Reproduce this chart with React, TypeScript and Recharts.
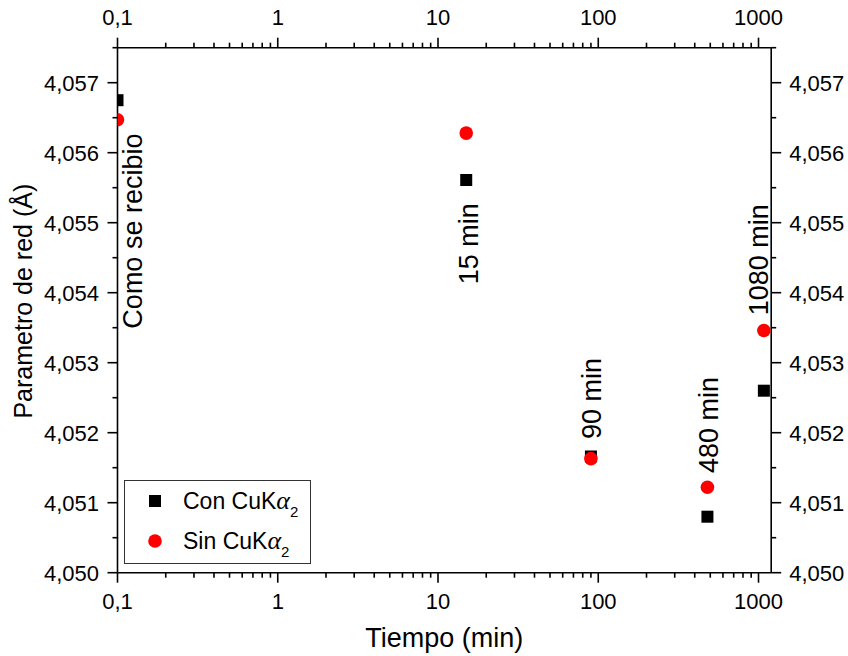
import React from 'react';
import { ScatterChart, Scatter, XAxis, YAxis, Legend } from 'recharts';

const FONT = '"Liberation Sans", Arial, Helvetica, sans-serif';

// ---- data ----
const tiempos = [0.1, 15, 90, 480, 1080];
const conCuKa2 = [4.05675, 4.05561, 4.05166, 4.0508, 4.0526];
const sinCuKa2 = [4.05647, 4.05628, 4.05163, 4.05122, 4.05346];
const seriesNames = ['Con CuKα2', 'Sin CuKα2'];

const annotationTexts = ['Como se recibio', '15 min', '90 min', '480 min', '1080 min'];
const annotationX = [0.1232, 15.5, 90, 484, 995];
const annotationY = [4.05488, 4.0547, 4.05249, 4.05211, 4.05447];

const xMajorTicks = [0.1, 1, 10, 100, 1000];
const xTickLabels = ['0,1', '1', '10', '100', '1000'];
const xMinorTicks = [
  0.2, 0.3, 0.4, 0.5, 0.6, 0.7, 0.8, 0.9,
  2, 3, 4, 5, 6, 7, 8, 9,
  20, 30, 40, 50, 60, 70, 80, 90,
  200, 300, 400, 500, 600, 700, 800, 900,
];
const yMajorTicks = [4.05, 4.051, 4.052, 4.053, 4.054, 4.055, 4.056, 4.057];
const yTickLabels = ['4,050', '4,051', '4,052', '4,053', '4,054', '4,055', '4,056', '4,057'];
const yMinorTicks = [4.0505, 4.0515, 4.0525, 4.0535, 4.0545, 4.0555, 4.0565, 4.0575];

const xDomain = [0.1, 1200];
const yDomain = [4.05, 4.0575];

// ---- tables built from the arrays ----
const conData = tiempos.map((t, i) => ({ x: t, y: conCuKa2[i] }));
const sinData = tiempos.map((t, i) => ({ x: t, y: sinCuKa2[i] }));
const annData = annotationTexts.map((s, i) => ({ x: annotationX[i], y: annotationY[i], text: s }));
const xAllTicks = [...xMajorTicks, ...xMinorTicks].sort((a, b) => a - b);
const yAllTicks = [...yMajorTicks, ...yMinorTicks].sort((a, b) => a - b);

const findIdx = (arr: number[], v: number) => arr.findIndex((m) => Math.abs(m - v) < 1e-7 * Math.abs(m));

const STROKE = 1.6;

const makeXTick = (side: 'top' | 'bottom') => (props: any) => {
  const { x, y, payload } = props;
  const idx = findIdx(xMajorTicks, payload.value);
  const major = idx >= 0;
  const len = major ? 10 : 5;
  const s = side === 'bottom' ? 1 : -1;
  return (
    <g>
      <line x1={x} x2={x} y1={y} y2={y + s * len} stroke="#000" strokeWidth={STROKE} />
      {major && (
        <text
          x={x}
          y={side === 'bottom' ? y + 36 : y - 23}
          textAnchor="middle"
          fontSize={22}
          fontFamily={FONT}
          fill="#000"
        >
          {xTickLabels[idx]}
        </text>
      )}
    </g>
  );
};

const makeYTick = (side: 'left' | 'right') => (props: any) => {
  const { x, y, payload } = props;
  const idx = findIdx(yMajorTicks, payload.value);
  const major = idx >= 0;
  const len = major ? 10 : 5;
  const s = side === 'right' ? 1 : -1;
  return (
    <g>
      <line x1={x} x2={x + s * len} y1={y} y2={y} stroke="#000" strokeWidth={STROKE} />
      {major && (
        <text
          x={side === 'right' ? x + 18 : x - 18.5}
          y={y}
          dy="0.36em"
          textAnchor={side === 'right' ? 'start' : 'end'}
          fontSize={22}
          fontFamily={FONT}
          fill="#000"
        >
          {yTickLabels[idx]}
        </text>
      )}
    </g>
  );
};

const XTitle = (props: any) => {
  const vb = props.viewBox || {};
  return (
    <text
      x={vb.x + vb.width / 2}
      y={vb.y + 74.6}
      textAnchor="middle"
      fontSize={27}
      fontFamily={FONT}
      fill="#000"
    >
      Tiempo (min)
    </text>
  );
};

const YTitle = (props: any) => {
  const vb = props.viewBox || {};
  const cx = vb.x + 23;
  const cy = vb.y + vb.height / 2 - 9;
  return (
    <text
      transform={`translate(${cx},${cy}) rotate(-90)`}
      x={0}
      y={0}
      dy="0.36em"
      textAnchor="middle"
      fontSize={25}
      fontFamily={FONT}
      fill="#000"
    >
      Parametro de red (Å)
    </text>
  );
};

const SquareShape = (props: any) => {
  const { cx, cy } = props;
  return <rect x={cx - 6} y={cy - 6} width={12} height={12} fill="#000" />;
};
const CircleShape = (props: any) => {
  const { cx, cy } = props;
  return <circle cx={cx} cy={cy} r={6.8} fill="#ff0000" />;
};
const AnnotationShape = (props: any) => {
  const { cx, cy, payload } = props;
  return (
    <text
      transform={`translate(${cx},${cy}) rotate(-90)`}
      x={0}
      y={0}
      dy="0.36em"
      textAnchor="middle"
      fontSize={27}
      fontFamily={FONT}
      fill="#000"
    >
      {payload?.text}
    </text>
  );
};

const LegendContent = (props: any) => {
  const items = (props.payload || []).filter((p: any) => p.type !== 'none');
  return (
    <svg width={187} height={85} style={{ display: 'block' }}>
      <rect x={0.5} y={0.5} width={186} height={83} fill="#fff" stroke="#333" strokeWidth={1} />
      {items.map((p: any, i: number) => {
        const cy = 21 + i * 40;
        const name: string = p.value || '';
        const aIdx = name.indexOf('α');
        const base = aIdx >= 0 ? name.slice(0, aIdx) : name;
        const sub = aIdx >= 0 ? name.slice(aIdx + 1) : '';
        return (
          <g key={i}>
            {p.type === 'square' ? (
              <rect x={31 - 6} y={cy - 6} width={12} height={12} fill={p.color} />
            ) : (
              <circle cx={31} cy={cy} r={6.8} fill={p.color} />
            )}
            <text x={59} y={cy + 7.5} fontSize={23} fontFamily={FONT} fill="#000">
              {base}
              {aIdx >= 0 && (
                <tspan fontStyle="italic" fontFamily='"Liberation Serif", "DejaVu Serif", serif' fontSize={26}>
                  α
                </tspan>
              )}
              {sub && (
                <tspan fontSize={15} dy={8}>
                  {sub}
                </tspan>
              )}
            </text>
          </g>
        );
      })}
    </svg>
  );
};

export default function App() {
  return (
    <div style={{ position: 'absolute', left: 0, top: 0, width: 848, height: 656, background: '#fff' }}>
      <ScatterChart width={848} height={656} margin={{ top: 0, right: 0, bottom: 0, left: 0 }}>
        <XAxis
          xAxisId="bottom"
          orientation="bottom"
          dataKey="x"
          type="number"
          scale="log"
          domain={xDomain}
          allowDataOverflow
          ticks={xAllTicks}
          interval={0}
          tickSize={0}
          tickMargin={0}
          tickLine={false}
          tick={makeXTick('bottom')}
          axisLine={{ stroke: '#000', strokeWidth: STROKE }}
          height={83.3}
          label={XTitle}
        />
        <XAxis
          xAxisId="top"
          orientation="top"
          dataKey="x"
          type="number"
          scale="log"
          domain={xDomain}
          allowDataOverflow
          ticks={xAllTicks}
          interval={0}
          tickSize={0}
          tickMargin={0}
          tickLine={false}
          tick={makeXTick('top')}
          axisLine={{ stroke: '#000', strokeWidth: STROKE }}
          height={47.7}
        />
        <YAxis
          yAxisId="left"
          orientation="left"
          dataKey="y"
          type="number"
          domain={yDomain}
          allowDataOverflow
          ticks={yAllTicks}
          interval={0}
          tickSize={0}
          tickMargin={0}
          tickLine={false}
          tick={makeYTick('left')}
          axisLine={{ stroke: '#000', strokeWidth: STROKE }}
          width={117.5}
          label={YTitle}
        />
        <YAxis
          yAxisId="right"
          orientation="right"
          dataKey="y"
          type="number"
          domain={yDomain}
          allowDataOverflow
          ticks={yAllTicks}
          interval={0}
          tickSize={0}
          tickMargin={0}
          tickLine={false}
          tick={makeYTick('right')}
          axisLine={{ stroke: '#000', strokeWidth: STROKE }}
          width={76.8}
        />
        <Scatter
          name="annotations"
          data={annData}
          xAxisId="bottom"
          yAxisId="left"
          shape={AnnotationShape}
          legendType="none"
          isAnimationActive={false}
        />
        <Scatter
          name={seriesNames[0]}
          data={conData}
          xAxisId="bottom"
          yAxisId="left"
          fill="#000"
          shape={SquareShape}
          legendType="square"
          isAnimationActive={false}
        />
        <Scatter
          name={seriesNames[1]}
          data={sinData}
          xAxisId="bottom"
          yAxisId="left"
          fill="#ff0000"
          shape={CircleShape}
          legendType="circle"
          isAnimationActive={false}
        />
        <Legend
          layout="vertical"
          align="center"
          verticalAlign="middle"
          width={187}
          height={85}
          wrapperStyle={{ left: 124, top: 480, width: 187, height: 85 }}
          content={LegendContent}
        />
      </ScatterChart>
    </div>
  );
}
